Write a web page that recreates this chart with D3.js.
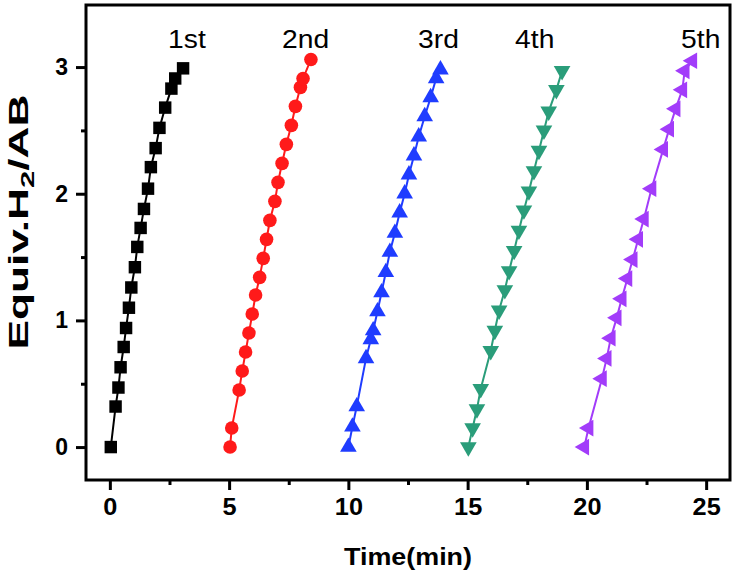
<!DOCTYPE html>
<html><head><meta charset="utf-8">
<script src="https://cdn.jsdelivr.net/npm/d3@7"></script>
<style>html,body{margin:0;padding:0;background:#fff;}svg{display:block;}</style>
</head><body>
<svg id="c" width="736" height="578"></svg>
<script>
const seriesNames = ["1st","2nd","3rd","4th","5th"];
const seriesColors = ["#000000","#ff1a1a","#1f3cff","#2a9d7a","#a23cfa"];
const t1 = [0.04,0.24,0.36,0.45,0.58,0.68,0.80,0.90,1.05,1.15,1.29,1.43,1.60,1.72,1.92,2.08,2.32,2.58,2.74,3.07];
const y1 = [0,0.32,0.47,0.63,0.79,0.94,1.10,1.26,1.42,1.58,1.73,1.88,2.04,2.21,2.36,2.52,2.68,2.83,2.91,2.99];
const t2 = [5.04,5.11,5.42,5.55,5.69,5.83,5.97,6.11,6.28,6.43,6.57,6.71,6.92,7.05,7.22,7.40,7.61,7.78,7.99,8.10,8.43];
const y2 = [0,0.15,0.45,0.60,0.75,0.90,1.05,1.20,1.34,1.49,1.64,1.79,1.94,2.09,2.24,2.39,2.54,2.69,2.84,2.91,3.06];
const t3 = [10.0,10.17,10.35,10.74,10.94,11.04,11.22,11.39,11.57,11.74,11.95,12.15,12.36,12.54,12.75,12.95,13.20,13.45,13.68,13.86];
const y3 = [0,0.16,0.32,0.70,0.85,0.92,1.07,1.22,1.38,1.54,1.69,1.85,2.00,2.15,2.30,2.45,2.61,2.76,2.91,2.98];
const t4 = [15.03,15.21,15.39,15.55,15.97,16.14,16.32,16.56,16.74,16.95,17.15,17.36,17.57,17.78,17.99,18.20,18.40,18.72,18.96];
const y4 = [0,0.15,0.30,0.46,0.76,0.92,1.08,1.24,1.39,1.55,1.71,1.87,2.02,2.18,2.34,2.50,2.65,2.82,2.97];
const t5 = [19.89,20.07,20.63,20.83,21.00,21.25,21.46,21.70,21.92,22.15,22.39,22.71,23.20,23.45,23.72,24.00,24.10,24.42];
const y5 = [0,0.15,0.54,0.70,0.86,1.02,1.17,1.33,1.48,1.64,1.80,2.04,2.35,2.51,2.67,2.82,2.97,3.05];
const labelT = [2.44,7.22,12.92,16.99,23.95];
const labelY = [3.15,3.15,3.15,3.15,3.15];
const xTicks = [0,5,10,15,20,25];
const yTicks = [0,1,2,3];

const times = [t1,t2,t3,t4,t5];
const vals = [y1,y2,y3,y4,y5];

const svg = d3.select("#c");
const L=86, R=730, T=5, B=480;
const x = d3.scaleLinear().domain([-1,26]).range([L,R]);
const y = d3.scaleLinear().domain([-0.26,3.49]).range([B,T]);

const fontB = "'Liberation Sans', Arial, sans-serif";
function stretch(sel, k){
  sel.each(function(){
    const w = this.getComputedTextLength();
    d3.select(this).attr("textLength", w*k).attr("lengthAdjust","spacingAndGlyphs");
  });
}

// frame
svg.append("rect").attr("x",L).attr("y",T).attr("width",R-L).attr("height",B-T)
  .attr("fill","none").attr("stroke","#000").attr("stroke-width",3);

// x axis
const xa = svg.append("g").attr("transform",`translate(0,${B})`)
  .call(d3.axisBottom(x).tickValues(xTicks).tickSize(10).tickPadding(9).tickFormat(d3.format("d")));
xa.select(".domain").remove();
xa.selectAll(".tick line").attr("stroke-width",3);
xa.selectAll(".tick text").attr("font-family",fontB).attr("font-weight","bold").attr("font-size",23);
stretch(xa.selectAll(".tick text"), 1.1);
const xm = svg.append("g").attr("transform",`translate(0,${B})`)
  .call(d3.axisBottom(x).tickValues(d3.range(2.5,26,5)).tickSize(5).tickFormat(""));
xm.select(".domain").remove();
xm.selectAll(".tick line").attr("stroke-width",3);

// y axis
const ya = svg.append("g").attr("transform",`translate(${L},0)`)
  .call(d3.axisLeft(y).tickValues(yTicks).tickSize(10).tickPadding(8).tickFormat(d3.format("d")));
ya.select(".domain").remove();
ya.selectAll(".tick line").attr("stroke-width",3);
ya.selectAll(".tick text").attr("font-family",fontB).attr("font-weight","bold").attr("font-size",23);
const ym = svg.append("g").attr("transform",`translate(${L},0)`)
  .call(d3.axisLeft(y).tickValues([0.5,1.5,2.5]).tickSize(5).tickFormat(""));
ym.select(".domain").remove();
ym.selectAll(".tick line").attr("stroke-width",3);

// axis titles
const xt = svg.append("text").attr("x",(L+R)/2).attr("y",565).attr("text-anchor","middle")
  .attr("font-family",fontB).attr("font-weight","bold").attr("font-size",24).text("Time(min)");
xt.attr("textLength",128).attr("lengthAdjust","spacingAndGlyphs");
const yt = svg.append("text").attr("transform","translate(28,222) rotate(-90)").attr("text-anchor","middle")
  .attr("font-family",fontB).attr("font-weight","bold").attr("font-size",27)
  .attr("textLength",255).attr("lengthAdjust","spacingAndGlyphs");
yt.append("tspan").text("Equiv.H");
yt.append("tspan").attr("font-size",19).attr("dy",6).text("2");
yt.append("tspan").attr("dy",-6).text("/AB");

// series
const symbols = [
  {type:d3.symbolSquare,size:155,rot:0},
  {type:d3.symbolCircle,size:145,rot:0},
  {type:d3.symbolTriangle,size:120,rot:0},
  {type:d3.symbolTriangle,size:120,rot:180},
  {type:d3.symbolTriangle,size:120,rot:-90}
];
const line = d3.line().x(d=>x(d[0])).y(d=>y(d[1]));
times.forEach((ts,i)=>{
  const pts = ts.map((t,j)=>[t,vals[i][j]]);
  const g = svg.append("g");
  g.append("path").attr("d",line(pts)).attr("fill","none").attr("stroke",seriesColors[i]).attr("stroke-width",2);
  const sym = d3.symbol().type(symbols[i].type).size(symbols[i].size);
  g.selectAll("path.m").data(pts).join("path").attr("class","m")
    .attr("d",sym).attr("fill",seriesColors[i])
    .attr("transform",d=>`translate(${x(d[0])},${y(d[1])}) rotate(${symbols[i].rot})`);
});

// labels
const labs = svg.selectAll("text.lab").data(seriesNames).join("text").attr("class","lab")
  .attr("x",(d,i)=>x(labelT[i])).attr("y",(d,i)=>y(labelY[i]))
  .attr("font-family","'Liberation Sans', Arial, sans-serif").attr("font-size",25).text(d=>d);
stretch(labs, 1.13);
</script>
</body></html>
